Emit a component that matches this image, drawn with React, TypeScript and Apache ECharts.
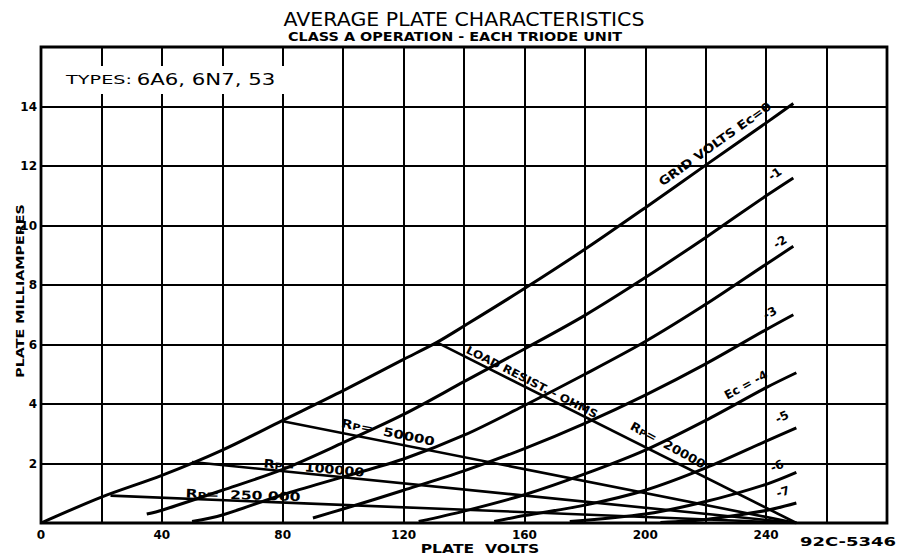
import React, { useEffect, useRef } from "react";
import * as echarts from "echarts";

// Axis tick labels
const xLabels = [0, 40, 80, 120, 160, 200, 240];
const yLabels = [2, 4, 6, 8, 10, 12, 14];

// Plate characteristics: [plate volts, plate mA]
const ec0 = [[0, 0], [20, 0.87], [40, 1.6], [60, 2.45], [80, 3.45], [100, 4.45], [120, 5.5], [131, 6.07], [140, 6.62], [160, 7.88], [180, 9.2], [200, 10.6], [220, 12.03], [240, 13.45], [249, 14.1]];
const ecM1 = [[35, 0.3], [40, 0.43], [60, 1.1], [80, 1.8], [100, 2.7], [120, 3.65], [140, 4.75], [160, 5.85], [180, 6.98], [200, 8.25], [220, 9.6], [240, 11.0], [249, 11.6]];
const ecM2 = [[50, 0.05], [60, 0.27], [80, 0.95], [100, 1.55], [120, 2.15], [140, 2.95], [160, 3.95], [180, 5.0], [200, 6.1], [220, 7.35], [240, 8.7], [249, 9.3]];
const ecM3 = [[90, 0.17], [100, 0.47], [120, 1.1], [140, 1.75], [160, 2.5], [180, 3.35], [200, 4.3], [220, 5.35], [240, 6.5], [249, 7.0]];
const ecM4 = [[125, 0.05], [140, 0.4], [160, 0.95], [180, 1.65], [200, 2.45], [220, 3.45], [240, 4.55], [250, 5.05]];
const ecM5 = [[150, 0.05], [160, 0.25], [180, 0.6], [200, 1.1], [220, 1.85], [240, 2.75], [250, 3.2]];
const ecM6 = [[175, 0.05], [200, 0.3], [220, 0.72], [240, 1.3], [250, 1.7]];
const ecM7 = [[205, 0.02], [220, 0.12], [240, 0.42], [250, 0.67]];

// Load lines (Rp)
const load20k = [[131, 6.07], [250, 0]];
const load50k = [[80, 3.42], [250, 0]];
const load100k = [[50, 2.05], [250, 0]];
const load250k = [[23, 0.92], [250, 0]];

const FONT = '"DejaVu Sans", sans-serif';

function label(text: string, x: number, y: number, size: number, opts: any = {}) {
  return {
    type: "text",
    x,
    y,
    rotation: opts.rotation || 0,
    scaleX: opts.scaleX || 1,
    z: 100,
    silent: true,
    style: {
      text,
      font: `${opts.weight || "bold"} ${size}px ${FONT}`,
      fill: "#000",
      align: "center",
      verticalAlign: "middle",
      textAlign: "center",
      textVerticalAlign: "middle",
    },
  };
}

function rpLabel(value: string, x: number, y: number, rotation: number, scaleX = 1.2) {
  return {
    type: "text",
    x,
    y,
    rotation,
    scaleX,
    z: 100,
    silent: true,
    style: {
      text: `{r|R}{p|P}{r|=  ${value}}`,
      fill: "#000",
      align: "center",
      verticalAlign: "middle",
      textAlign: "center",
      textVerticalAlign: "middle",
      rich: {
        r: { fontSize: 12, fontWeight: "bold", fontFamily: FONT, fill: "#000", color: "#000" },
        p: { fontSize: 9, fontWeight: "bold", fontFamily: FONT, fill: "#000", color: "#000", padding: [3, 0, 0, 0] },
      },
    },
  };
}

export default function App() {
  const ref = useRef<HTMLDivElement>(null);

  useEffect(() => {
    if (!ref.current) return;
    const chart = echarts.init(ref.current, null, { renderer: "svg" });

    const curveSeries = [ec0, ecM1, ecM2, ecM3, ecM4, ecM5, ecM6, ecM7].map((d, i) => ({
      type: "line",
      name: `Ec=${i === 0 ? 0 : -i}`,
      data: d,
      smooth: 0.3,
      symbol: "none",
      silent: true,
      lineStyle: { color: "#000", width: 3 },
      z: 5,
    }));
    const loadSeries = [load20k, load50k, load100k, load250k].map((d, i) => ({
      type: "line",
      name: `load${i}`,
      data: d,
      symbol: "none",
      silent: true,
      lineStyle: { color: "#000", width: 2.6 },
      z: 5,
    }));

    chart.setOption({
      animation: false,
      backgroundColor: "#fff",
      grid: { left: 41, right: 10, top: 47, bottom: 36, show: true, borderColor: "#000", borderWidth: 2.8, containLabel: false },
      xAxis: {
        type: "value",
        min: 0,
        max: 280,
        interval: 20,
        axisLine: { show: false },
        axisTick: { show: false },
        splitLine: { show: true, lineStyle: { color: "#000", width: 2 } },
        axisLabel: {
          margin: 6,
          color: "#000",
          fontSize: 12,
          fontWeight: "bold",
          fontFamily: FONT,
          formatter: (v: number) => (xLabels.includes(v) ? String(v) : ""),
        },
      },
      yAxis: {
        type: "value",
        min: 0,
        max: 16,
        interval: 2,
        axisLine: { show: false },
        axisTick: { show: false },
        splitLine: { show: true, lineStyle: { color: "#000", width: 2 } },
        axisLabel: {
          margin: 4,
          color: "#000",
          fontSize: 12,
          fontWeight: "bold",
          fontFamily: FONT,
          formatter: (v: number) => (yLabels.includes(v) ? String(v) : ""),
        },
      },
      series: [...curveSeries, ...loadSeries],
      graphic: [
        label("AVERAGE PLATE CHARACTERISTICS", 464, 20, 19, { weight: "normal", scaleX: 1.08 }),
        label("CLASS A OPERATION - EACH TRIODE UNIT", 455, 37, 12, { scaleX: 1.2 }),
        { type: "rect", z: 99, silent: true, shape: { x: 50, y: 66, width: 242, height: 28 }, style: { fill: "#fff" } },
        label("TYPES:", 99, 80, 12, { weight: "normal", scaleX: 1.6 }),
        label("6A6, 6N7, 53", 206, 79, 16, { weight: "normal", scaleX: 1.33 }),
        label("PLATE MILLIAMPERES", 20, 291, 11, { rotation: Math.PI / 2, scaleX: 1.3 }),
        label("PLATE  VOLTS", 480, 549, 12, { scaleX: 1.3 }),
        label("92C-5346", 848, 542, 12, { scaleX: 1.5 }),
        label("GRID VOLTS Ec=0", 715, 144, 12, { rotation: 0.62, scaleX: 1.15 }),
        label("-1", 775, 174, 12, { rotation: 0.6 }),
        label("-2", 780, 242, 12, { rotation: 0.55 }),
        label("-3", 770, 313, 12, { rotation: 0.5 }),
        label("Ec = -4", 746, 385, 12, { rotation: 0.5, scaleX: 1.0 }),
        label("-5", 782, 417, 12, { rotation: 0.45 }),
        label("-6", 777, 466, 12, { rotation: 0.4 }),
        label("-7", 783, 492, 12, { rotation: 0.3 }),
        label("LOAD RESIST. - OHMS", 532, 382, 11, { rotation: -0.47, scaleX: 1.1 }),
        rpLabel("20000", 668, 445, -0.5, 1.1),
        rpLabel("50000", 388, 432, -0.2, 1.25),
        rpLabel("100000", 314, 468, -0.09, 1.2),
        rpLabel("250 000", 243, 495, -0.03, 1.3),
      ],
    });

    return () => chart.dispose();
  }, []);

  return <div ref={ref} style={{ position: "fixed", left: 0, top: 0, width: 897, height: 559, background: "#fff" }} />;
}
